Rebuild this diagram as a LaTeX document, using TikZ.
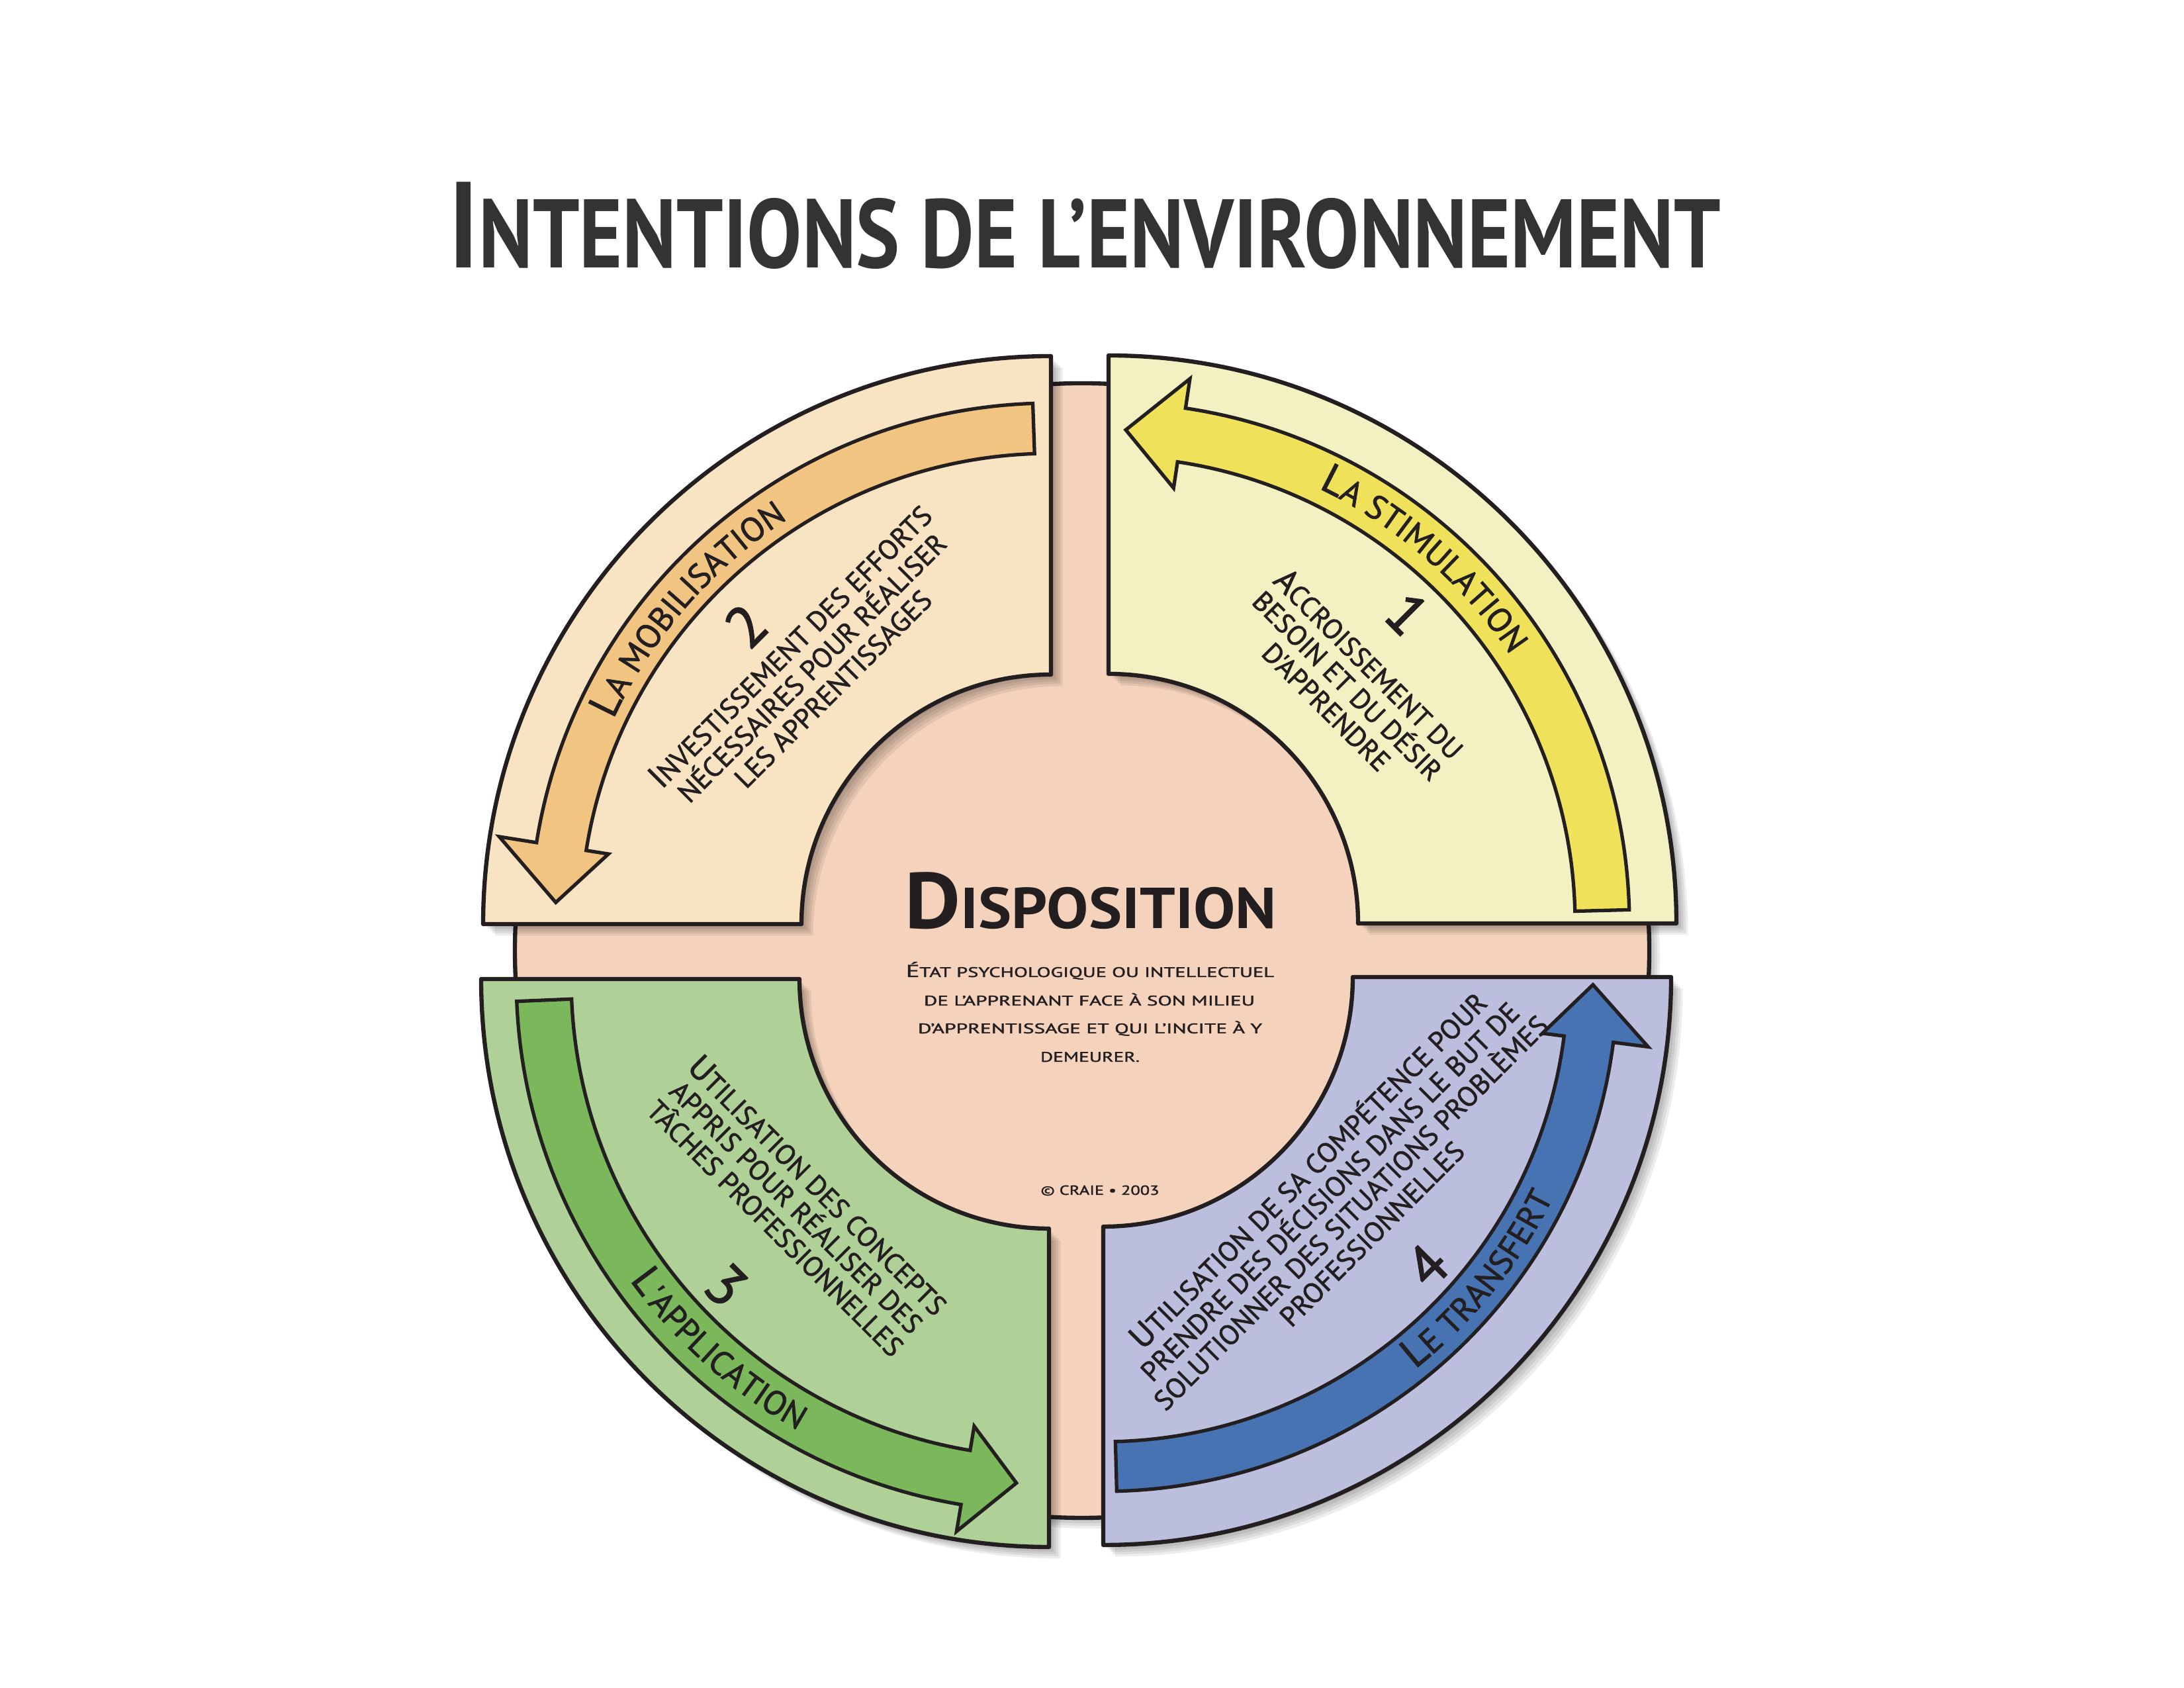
\documentclass[tikz,border=0pt]{standalone}
\usepackage{fontspec}
\setmainfont{PT Sans}
\newfontfamily\semib{PT Sans}[FakeBold=1.6]
\usepackage{graphicx}
\usetikzlibrary{decorations.text,calc}
\newcommand{\fsz}[2]{\fontsize{#1}{#2}\selectfont}
\newcommand{\BL}{\fsz{14.5}{14.5}}
\newcommand{\LBg}{\semib\fontsize{18}{18}\selectfont}
\newcommand{\LSm}{\semib\fontsize{14.5}{14.5}\selectfont}
\definecolor{ink}{HTML}{231F20}
\definecolor{titlec}{HTML}{333333}
\definecolor{discfill}{HTML}{F5D2BC}
\definecolor{qafill}{HTML}{F3F0C2}
\definecolor{qaarrow}{HTML}{EFE25A}
\definecolor{qbfill}{HTML}{F8E3C3}
\definecolor{qbarrow}{HTML}{F2C482}
\definecolor{qcfill}{HTML}{AFD096}
\definecolor{qcarrow}{HTML}{7AB85B}
\definecolor{qdfill}{HTML}{BCBEDD}
\definecolor{qdarrow}{HTML}{4773B3}
\tikzset{
  outline/.style={draw=ink, line width=1.8pt, line join=round},
  arrowline/.style={draw=ink, line width=1.5pt, line join=miter},
  qpath/.style={insert path={(0:8.58) arc[start angle=0,end angle=90,radius=8.58] -- (90:3.77) arc[start angle=90,end angle=0,radius=3.77] -- cycle}},
  arrowpath/.style n args={8}{insert path={(#5:#2) arc[start angle=#5,end angle=#6,radius=#2] -- (#6:#4) -- (#7:#8) -- (#6:#3) -- (#6:#1) arc[start angle=#6,end angle=#5,radius=#1] -- cycle}},
  body/.style={text=ink, align=center, inner sep=0pt, font=\semib\fsz{12}{12.8}},
  numeral/.style={text=ink, inner sep=0pt, font=\semib\fsz{25}{25}},
  ctr/.style={text=ink, anchor=base, inner sep=0pt, font=\semib},
  shadowfill/.style={fill=black, opacity=0.07},
}
\begin{document}
\begin{tikzpicture}
\useasboundingbox (0,0) rectangle (33,25.5);
\fill[white] (0,0) rectangle (33,25.5);

% title
\node[anchor=base west, inner sep=0pt, text=titlec] (title) at (6.78,21.45)
  {\resizebox{19.21cm}{\height}{\bfseries\fsz{52.6}{52.6}I\fsz{41.9}{41.9}NTENTIONS DE L’ENVIRONNEMENT}};

% disc shadow and disc
\foreach \s in {0.04,0.08,0.12,0.16}
  \fill[shadowfill] (16.35+\s,11.14-\s) circle[radius=8.57];
\filldraw[outline, fill=discfill] (16.35,11.14) circle[radius=8.57];

% quadrant shadows
\foreach \cx/\cy/\rot in {16.75/11.55/0, 15.88/11.54/90, 15.85/10.71/180, 16.67/10.74/270}{
  \foreach \s in {0.035,0.07,0.105,0.14,0.175}
    \fill[shadowfill, shift={(\cx+\s,\cy-\s)}, rotate=\rot, qpath];
}

% Q1 stimulation
\begin{scope}[shift={(16.75,11.55)}]
  \filldraw[outline, fill=qafill, qpath];
  \filldraw[arrowline, fill=qaarrow, arrowpath={7.05}{7.87}{6.65}{8.32}{1.5}{81.5}{88}{7.46}];
  \path[decorate, decoration={text along path, text color=ink, text align=center,
    text={|\LBg|L|\LSm|A STIMULATION}}]
    (85:7.30) arc[start angle=85,end angle=13,radius=7.30];
\end{scope}

% Q2 mobilisation
\begin{scope}[shift={(15.88,11.54)}, rotate=90]
  \filldraw[outline, fill=qbfill, qpath];
  \filldraw[arrowline, fill=qbarrow, arrowpath={7.11}{7.87}{6.77}{8.44}{2}{81}{87.5}{7.49}];
\end{scope}
\begin{scope}[shift={(15.88,11.54)}]
  \path[decorate, decoration={text along path, text color=ink, text align=center,
    text={|\LBg|L|\LSm|A MOBILISATION}}]
    (175:7.30) arc[start angle=175,end angle=103,radius=7.30];
\end{scope}

% Q3 application
\begin{scope}[shift={(15.85,10.71)}, rotate=180]
  \filldraw[outline, fill=qcfill, qpath];
  \filldraw[arrowline, fill=qcarrow, arrowpath={7.22}{8.05}{6.85}{8.46}{2.4}{80.5}{86.3}{7.63}];
\end{scope}
\begin{scope}[shift={(15.85,10.71)}]
  \path[decorate, decoration={text along path, text color=ink, text align=center,
    text={|\LBg|L|\LSm|'APPLICATION}}]
    (190:7.80) arc[start angle=190,end angle=266.6,radius=7.80];
\end{scope}

% Q4 transfert
\begin{scope}[shift={(16.67,10.74)}, rotate=270]
  \filldraw[outline, fill=qdfill, qpath];
  \filldraw[arrowline, fill=qdarrow, arrowpath={7.02}{7.77}{6.69}{8.30}{1.5}{82.7}{89.1}{7.40}];
\end{scope}
\begin{scope}[shift={(16.67,10.74)}]
  \path[decorate, decoration={text along path, text color=ink, text align=center,
    text={|\LBg|L|\LSm|E TRANSFERT}}]
    (283:7.57) arc[start angle=283,end angle=359.4,radius=7.57];
\end{scope}

% numerals
\node[numeral, rotate=-45] (n1) at (21.26,16.23) {1};
\node[numeral, rotate=45] (n2) at (11.27,16.05) {2};
\node[numeral, rotate=-45] (n3) at (10.97,6.08) {3};
\node[numeral, rotate=45] (n4) at (21.56,6.38) {4};

% body texts
\node[body, rotate=-45] (b1) at (20.38,15.16)
  {{\BL A}CCROISSEMENT DU\\BESOIN ET DU DÉSIR\\D'APPRENDRE};
\node[body, rotate=45] (b2) at (12.25,15.43)
  {{\BL I}NVESTISSEMENT DES EFFORTS\\NÉCESSAIRES POUR RÉALISER\\LES APPRENTISSAGES};
\node[body, rotate=-45] (b3) at (12.05,7.28)
  {{\BL U}TILISATION DES CONCEPTS\\APPRIS POUR RÉALISER DES\\TÂCHES PROFESSIONNELLES};
\node[body, rotate=45] (b4) at (20.23,7.36)
  {{\BL U}TILISATION DE SA COMPÉTENCE POUR\\PRENDRE DES DÉCISIONS DANS LE BUT DE\\SOLUTIONNER DES SITUATIONS PROBLÈMES\\PROFESSIONNELLES};

% centre
\node[anchor=base west, inner sep=0pt, text=ink] (disp) at (13.67,11.47)
  {\resizebox{5.61cm}{\height}{\bfseries\fsz{34}{34}D\fsz{24.8}{24.8}ISPOSITION}};
\node[ctr] (c1) at (16.47,10.74) {\resizebox{5.56cm}{\height}{\fsz{7.5}{7.5}É\fsz{6}{6}TAT PSYCHOLOGIQUE OU INTELLECTUEL}};
\node[ctr] (c2) at (16.46,10.31) {\resizebox{5.00cm}{\height}{\fsz{6}{6}DE L’APPRENANT FACE À SON MILIEU}};
\node[ctr] (c3) at (16.47,9.89) {\resizebox{5.20cm}{\height}{\fsz{6}{6}D’APPRENTISSAGE ET QUI L’INCITE À Y}};
\node[ctr] (c4) at (16.47,9.46) {\resizebox{1.50cm}{\height}{\fsz{6}{6}DEMEURER.}};
\node[ctr] (copy) at (16.62,7.45) {\resizebox{1.79cm}{\height}{\fsz{5.7}{5.7}© CRAIE • 2003}};
\end{tikzpicture}
\end{document}
